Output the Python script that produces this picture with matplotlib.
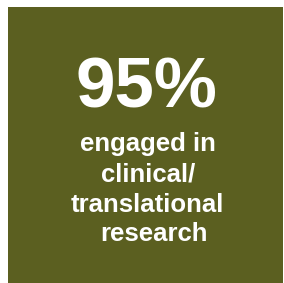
import matplotlib
matplotlib.use("Agg")
import matplotlib.pyplot as plt
from matplotlib.patches import Rectangle

W, H = 284, 283
value_label = "95%"
desc_lines = ["engaged in", "clinical/", "translational", "research"]
bg_color = "#5b5f20"

fig = plt.figure(figsize=(W / 100, H / 100), dpi=100)
fig.patch.set_facecolor("white")

# green panel
x0, y0, x1, y1 = 8, 7, 283, 283
fig.patches.append(Rectangle((x0 / W, 1 - y1 / H), (x1 - x0) / W, (y1 - y0) / H,
                             transform=fig.transFigure, facecolor=bg_color,
                             edgecolor="none"))

font = ["Liberation Sans", "DejaVu Sans"]
fig.text(146.5 / W, 1 - 108 / H, value_label, ha="center", va="baseline",
         color="white", fontsize=51, fontweight="bold", family=font)

baselines = [151, 181, 212, 241]
centers = [148, 148, 147.5, 154]
for line, yb, cx in zip(desc_lines, baselines, centers):
    fig.text(cx / W, 1 - yb / H, line, ha="center", va="baseline",
             color="white", fontsize=18.5, fontweight="bold", family=font)

fig.savefig("out.png", dpi=100, facecolor=fig.get_facecolor())
